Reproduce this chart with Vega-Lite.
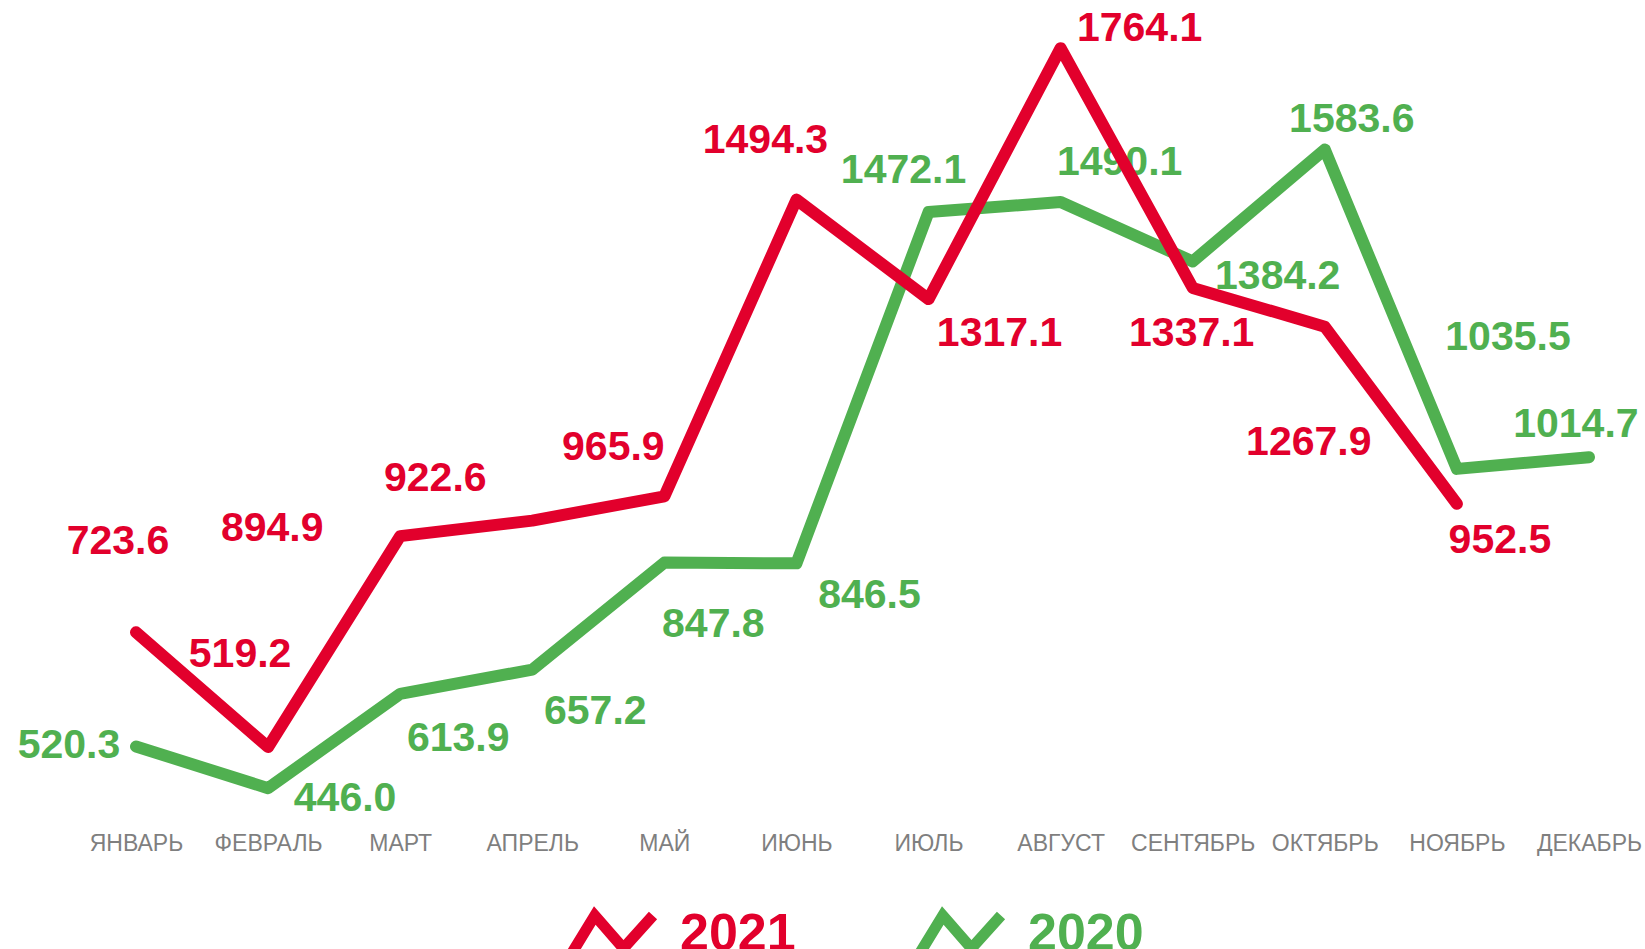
{
  "$schema": "https://vega.github.io/schema/vega-lite/v6.json",
  "autosize": {"type": "none"},
  "width": 1453,
  "height": 786,
  "padding": {"left": 136, "top": 28, "right": 56, "bottom": 135},
  "background": "white",
  "config": {"view": {"stroke": null}, "font": "Liberation Sans"},
  "data": {"values": [
    {"month": "ЯНВАРЬ", "series": "2021", "value": 723.6},
    {"month": "ФЕВРАЛЬ", "series": "2021", "value": 519.2},
    {"month": "МАРТ", "series": "2021", "value": 894.9},
    {"month": "АПРЕЛЬ", "series": "2021", "value": 922.6},
    {"month": "МАЙ", "series": "2021", "value": 965.9},
    {"month": "ИЮНЬ", "series": "2021", "value": 1494.3},
    {"month": "ИЮЛЬ", "series": "2021", "value": 1317.1},
    {"month": "АВГУСТ", "series": "2021", "value": 1764.1},
    {"month": "СЕНТЯБРЬ", "series": "2021", "value": 1337.1},
    {"month": "ОКТЯБРЬ", "series": "2021", "value": 1267.9},
    {"month": "НОЯБРЬ", "series": "2021", "value": 952.5},
    {"month": "ЯНВАРЬ", "series": "2020", "value": 520.3},
    {"month": "ФЕВРАЛЬ", "series": "2020", "value": 446.0},
    {"month": "МАРТ", "series": "2020", "value": 613.9},
    {"month": "АПРЕЛЬ", "series": "2020", "value": 657.2},
    {"month": "МАЙ", "series": "2020", "value": 847.8},
    {"month": "ИЮНЬ", "series": "2020", "value": 846.5},
    {"month": "ИЮЛЬ", "series": "2020", "value": 1472.1},
    {"month": "АВГУСТ", "series": "2020", "value": 1490.1},
    {"month": "СЕНТЯБРЬ", "series": "2020", "value": 1384.2},
    {"month": "ОКТЯБРЬ", "series": "2020", "value": 1583.6},
    {"month": "НОЯБРЬ", "series": "2020", "value": 1014.7},
    {"month": "ДЕКАБРЬ", "series": "2020", "value": 1035.5}
  ]},
  "encoding": {
    "x": {"field": "month", "type": "ordinal",
      "sort": ["ЯНВАРЬ","ФЕВРАЛЬ","МАРТ","АПРЕЛЬ","МАЙ","ИЮНЬ","ИЮЛЬ","АВГУСТ","СЕНТЯБРЬ","ОКТЯБРЬ","НОЯБРЬ","ДЕКАБРЬ"],
      "scale": {"type": "point", "padding": 0},
      "axis": {"title": null, "domain": false, "ticks": false, "labelAngle": 0, "labelFontSize": 23, "labelColor": "#7f7f7f", "labelPadding": 18, "labelFont": "Liberation Sans"}},
    "y": {"field": "value", "type": "quantitative", "scale": {"domain": [400, 1800], "nice": false, "zero": false}, "axis": null},
    "color": {"field": "series", "type": "nominal",
      "scale": {"domain": ["2021", "2020"], "range": ["#E2002C", "#50B050"]},
      "legend": {"title": null, "orient": "none", "direction": "horizontal", "legendX": 435, "legendY": 865,
        "symbolType": "M-1.115,0.429L-0.439,-0.678L0.28,0.149L0.9,-0.541L1.1,-0.361L0.278,0.554L-0.4,-0.224L-0.885,0.571Z", "symbolSize": 6724, "symbolStrokeWidth": 0, "symbolOpacity": 1,
        "labelFontSize": 52, "labelFontWeight": "bold", "labelFont": "Liberation Sans", "labelOffset": 27, "columnPadding": 118,
        "labelColor": {"expr": "datum.label == '2021' ? '#E2002C' : '#50B050'"}}}
  },
  "layer": [
    {"transform": [{"filter": "datum.series == '2020'"}], "mark": {"type": "line", "strokeWidth": 12, "strokeCap": "round", "strokeJoin": "round"}},
    {"transform": [{"filter": "datum.series == '2020' && datum.month == 'ЯНВАРЬ'"}], "mark": {"type": "text", "fontSize": 41, "fontWeight": "bold", "dx": -67, "dy": 0}, "encoding": {"text": {"field": "value", "format": ".1f"}}},
    {"transform": [{"filter": "datum.series == '2020' && datum.month == 'ФЕВРАЛЬ'"}], "mark": {"type": "text", "fontSize": 41, "fontWeight": "bold", "dx": 77, "dy": 11}, "encoding": {"text": {"field": "value", "format": ".1f"}}},
    {"transform": [{"filter": "datum.series == '2020' && datum.month == 'МАРТ'"}], "mark": {"type": "text", "fontSize": 41, "fontWeight": "bold", "dx": 58, "dy": 45}, "encoding": {"text": {"field": "value", "format": ".1f"}}},
    {"transform": [{"filter": "datum.series == '2020' && datum.month == 'АПРЕЛЬ'"}], "mark": {"type": "text", "fontSize": 41, "fontWeight": "bold", "dx": 63, "dy": 42}, "encoding": {"text": {"field": "value", "format": ".1f"}}},
    {"transform": [{"filter": "datum.series == '2020' && datum.month == 'МАЙ'"}], "mark": {"type": "text", "fontSize": 41, "fontWeight": "bold", "dx": 49, "dy": 62}, "encoding": {"text": {"field": "value", "format": ".1f"}}},
    {"transform": [{"filter": "datum.series == '2020' && datum.month == 'ИЮНЬ'"}], "mark": {"type": "text", "fontSize": 41, "fontWeight": "bold", "dx": 73, "dy": 33}, "encoding": {"text": {"field": "value", "format": ".1f"}}},
    {"transform": [{"filter": "datum.series == '2020' && datum.month == 'ИЮЛЬ'"}], "mark": {"type": "text", "fontSize": 41, "fontWeight": "bold", "dx": -25, "dy": -41}, "encoding": {"text": {"field": "value", "format": ".1f"}}},
    {"transform": [{"filter": "datum.series == '2020' && datum.month == 'АВГУСТ'"}], "mark": {"type": "text", "fontSize": 41, "fontWeight": "bold", "dx": 59, "dy": -39}, "encoding": {"text": {"field": "value", "format": ".1f"}}},
    {"transform": [{"filter": "datum.series == '2020' && datum.month == 'СЕНТЯБРЬ'"}], "mark": {"type": "text", "fontSize": 41, "fontWeight": "bold", "dx": 85, "dy": 16}, "encoding": {"text": {"field": "value", "format": ".1f"}}},
    {"transform": [{"filter": "datum.series == '2020' && datum.month == 'ОКТЯБРЬ'"}], "mark": {"type": "text", "fontSize": 41, "fontWeight": "bold", "dx": 27, "dy": -29}, "encoding": {"text": {"field": "value", "format": ".1f"}}},
    {"transform": [{"filter": "datum.series == '2020' && datum.month == 'НОЯБРЬ'"}], "mark": {"type": "text", "fontSize": 41, "fontWeight": "bold", "dx": 119, "dy": -44}, "encoding": {"text": {"field": "value", "format": ".1f"}}},
    {"transform": [{"filter": "datum.series == '2020' && datum.month == 'ДЕКАБРЬ'"}], "mark": {"type": "text", "fontSize": 41, "fontWeight": "bold", "dx": -81, "dy": -119}, "encoding": {"text": {"field": "value", "format": ".1f"}}},
    {"transform": [{"filter": "datum.series == '2021'"}], "mark": {"type": "line", "strokeWidth": 12, "strokeCap": "round", "strokeJoin": "round"}},
    {"transform": [{"filter": "datum.series == '2021' && datum.month == 'ЯНВАРЬ'"}], "mark": {"type": "text", "fontSize": 41, "fontWeight": "bold", "dx": -18, "dy": -90}, "encoding": {"text": {"field": "value", "format": ".1f"}}},
    {"transform": [{"filter": "datum.series == '2021' && datum.month == 'ФЕВРАЛЬ'"}], "mark": {"type": "text", "fontSize": 41, "fontWeight": "bold", "dx": -28, "dy": -92}, "encoding": {"text": {"field": "value", "format": ".1f"}}},
    {"transform": [{"filter": "datum.series == '2021' && datum.month == 'МАРТ'"}], "mark": {"type": "text", "fontSize": 41, "fontWeight": "bold", "dx": -128, "dy": -7}, "encoding": {"text": {"field": "value", "format": ".1f"}}},
    {"transform": [{"filter": "datum.series == '2021' && datum.month == 'АПРЕЛЬ'"}], "mark": {"type": "text", "fontSize": 41, "fontWeight": "bold", "dx": -97, "dy": -42}, "encoding": {"text": {"field": "value", "format": ".1f"}}},
    {"transform": [{"filter": "datum.series == '2021' && datum.month == 'МАЙ'"}], "mark": {"type": "text", "fontSize": 41, "fontWeight": "bold", "dx": -51, "dy": -48}, "encoding": {"text": {"field": "value", "format": ".1f"}}},
    {"transform": [{"filter": "datum.series == '2021' && datum.month == 'ИЮНЬ'"}], "mark": {"type": "text", "fontSize": 41, "fontWeight": "bold", "dx": -31, "dy": -59}, "encoding": {"text": {"field": "value", "format": ".1f"}}},
    {"transform": [{"filter": "datum.series == '2021' && datum.month == 'ИЮЛЬ'"}], "mark": {"type": "text", "fontSize": 41, "fontWeight": "bold", "dx": 71, "dy": 35}, "encoding": {"text": {"field": "value", "format": ".1f"}}},
    {"transform": [{"filter": "datum.series == '2021' && datum.month == 'АВГУСТ'"}], "mark": {"type": "text", "fontSize": 41, "fontWeight": "bold", "dx": 79, "dy": -19}, "encoding": {"text": {"field": "value", "format": ".1f"}}},
    {"transform": [{"filter": "datum.series == '2021' && datum.month == 'СЕНТЯБРЬ'"}], "mark": {"type": "text", "fontSize": 41, "fontWeight": "bold", "dx": -1, "dy": 46}, "encoding": {"text": {"field": "value", "format": ".1f"}}},
    {"transform": [{"filter": "datum.series == '2021' && datum.month == 'ОКТЯБРЬ'"}], "mark": {"type": "text", "fontSize": 41, "fontWeight": "bold", "dx": -16, "dy": 116}, "encoding": {"text": {"field": "value", "format": ".1f"}}},
    {"transform": [{"filter": "datum.series == '2021' && datum.month == 'НОЯБРЬ'"}], "mark": {"type": "text", "fontSize": 41, "fontWeight": "bold", "dx": 43, "dy": 37}, "encoding": {"text": {"field": "value", "format": ".1f"}}}
  ]
}
